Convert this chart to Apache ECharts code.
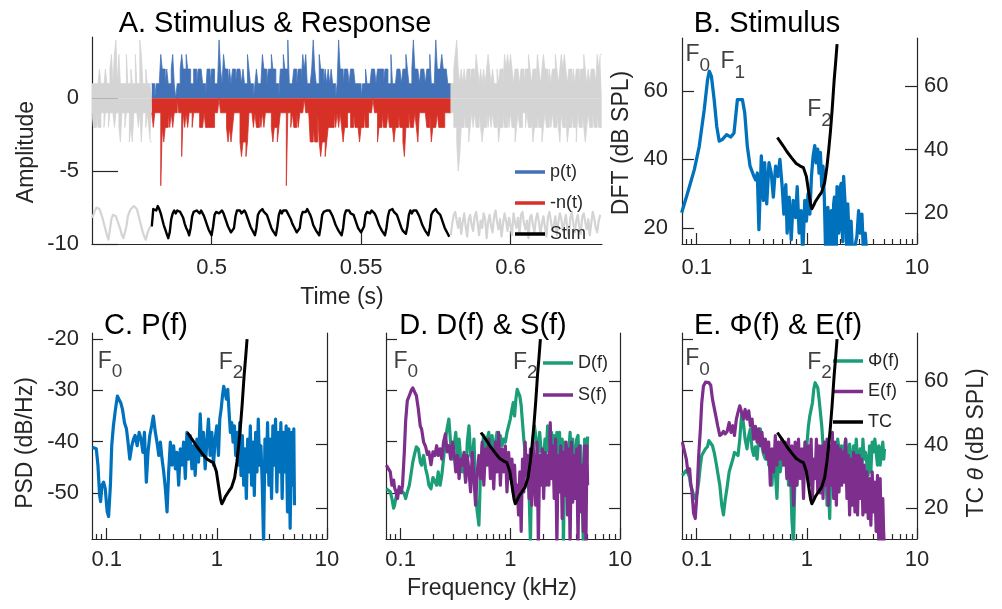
<!DOCTYPE html>
<html>
<head>
<meta charset="utf-8">
<script src="https://cdn.jsdelivr.net/npm/echarts@6/dist/echarts.min.js"></script>
<style>
html,body{margin:0;padding:0;background:#fff;}
#chart{width:1002px;height:609px;}
</style>
</head>
<body>
<div id="chart"></div>
<script>
// ---------- Panel A: spike counts per 0.5 ms bin, and the stimulus waveform ----------
const BIN = 0.0005;
const tPre = 0.46, tResp = 0.48, tPost = 0.58;

const preP = [
1,1,1,1,1,2,1,1,1,2,
1,1,2,3,1,3,4,1,3,1,
1,1,1,3,1,1,2,1,1,3,
1,1,4,3,1,1,2,1,1,1];
const preN = [
1,2,2,1,2,2,1,1,2,1,
1,2,1,1,1,2,1,1,2,3,
1,1,2,1,1,3,2,3,1,1,
1,2,1,3,1,1,2,1,2,3];

const pCounts = [
1,1,0,1,1,1,3,2,2,1,
2,1,1,2,3,1,0,1,1,2,
3,2,2,3,2,2,1,1,2,2,
1,2,2,2,1,1,0,2,2,1,
2,2,1,1,1,4,2,1,3,2,
2,1,2,1,2,2,1,2,2,2,
1,2,1,1,3,2,1,1,0,1,
2,1,1,1,3,2,2,1,2,2,
3,2,2,1,1,0,2,2,3,2,
2,4,1,1,1,2,2,1,2,2,
1,3,2,3,1,1,1,2,4,2,
1,1,3,2,2,1,2,1,2,1,
2,1,1,0,1,4,2,2,1,2,
2,2,1,2,2,2,1,1,1,1,
0,1,1,2,1,1,1,2,2,2,
1,2,2,2,2,1,2,2,1,1,
3,1,1,1,2,2,2,1,2,2,
3,2,1,1,2,4,2,2,2,1,
2,2,2,1,2,2,3,1,1,1,
4,2,2,2,3,2,2,2,1,1];
const nCounts = [
1,2,1,1,1,1,6,2,3,2,
2,1,2,1,2,1,1,0,1,1,
4,1,2,1,2,1,1,2,1,1,
1,1,2,2,2,1,2,2,2,2,
2,2,1,1,1,0,1,1,1,1,
2,3,2,3,2,1,1,1,1,3,
4,3,3,4,3,1,1,1,2,1,
2,2,1,2,1,2,1,1,1,1,
2,3,2,2,3,2,1,1,1,1,
6,1,1,2,1,2,2,1,2,1,
1,1,0,1,1,1,3,3,2,3,
3,1,3,4,3,3,4,3,2,2,
2,2,1,2,1,2,1,2,3,2,
2,1,1,2,2,1,2,2,2,3,
2,2,1,2,2,1,1,1,0,1,
1,3,2,2,1,2,2,2,1,2,
2,2,3,2,2,1,2,2,3,4,
2,2,1,2,2,2,1,2,3,1,
1,1,1,1,2,2,1,3,2,2,
2,1,2,2,2,2,1,1,1,1];

const postP = [
1,1,2,3,4,2,1,2,1,2,
1,2,2,1,2,2,1,3,2,1,
2,1,2,1,2,3,2,1,2,1,
1,2,1,2,2,1,3,2,3,2,
3,2,1,2,2,2,1,2,2,1,
2,2,3,2,1,2,2,1,3,2,
1,2,3,2,2,1,2,1,2,2,
3,2,1,2,3,2,3,2,1,2,
2,1,2,1,2,2,1,2,2,3,
2,1,2,1,2,2,2,1,3,2,3];
const postN = [
1,1,2,2,3,5,4,2,2,1,
2,2,3,2,1,2,1,2,2,1,
2,3,2,2,1,2,1,2,1,2,
2,1,3,2,2,1,2,2,1,2,
1,2,2,3,2,1,2,2,1,1,
2,1,2,2,1,3,2,2,1,2,
2,3,2,1,2,2,1,2,1,2,
2,1,2,3,1,2,2,1,3,2,
2,1,2,2,3,1,2,2,1,2,
3,2,1,2,2,1,2,2,1,2,2];

const stimPre = [
-8.2,-8.0,-7.7,-7.5,-7.4,-7.6,-7.9,-8.2,-8.6,-9.0,
-9.4,-9.7,-9.0,-8.3,-8.0,-7.9,-8.1,-8.4,-8.7,-9.0,
-9.4,-9.6,-9.7,-8.8,-8.1,-7.8,-7.6,-7.5,-7.4,-7.4,
-7.6,-8.0,-8.4,-8.8,-9.2,-9.5,-9.7,-9.3,-9.0,-8.8];
const stimResp = [
-8.8,-7.6,-7.5,-7.7,-7.4,-7.6,-7.9,-8.3,-8.7,-9.0,-9.3,-9.6,
-9.2,-8.3,-7.9,-7.7,-7.9,-7.7,-7.6,-7.8,-7.9,-8.2,-8.6,-8.9,-9.1,-9.4,
-8.9,-8.1,-7.8,-7.9,-7.7,-7.8,-7.9,-7.7,-7.9,-8.1,-8.4,-8.7,-9.0,-9.2,-9.4,
-8.8,-8.0,-7.8,-7.7,-7.9,-7.8,-7.7,-7.9,-8.2,-8.5,-8.8,-9.0,-9.2,-9.3,
-8.9,-8.1,-7.7,-7.8,-7.7,-7.9,-7.8,-7.7,-7.9,-8.2,-8.5,-8.8,-9.0,-9.1,-9.4,
-8.9,-8.0,-7.8,-7.8,-7.6,-7.8,-7.9,-8.0,-8.3,-8.6,-8.9,-9.1,-9.2,-9.4,
-8.8,-8.0,-7.7,-7.9,-7.7,-7.8,-7.7,-7.9,-8.0,-8.3,-8.6,-8.8,-9.0,-9.2,-9.3,
-8.9,-8.1,-7.8,-7.7,-7.8,-7.6,-7.8,-8.0,-8.3,-8.7,-8.9,-9.1,-9.2,-9.4,
-8.8,-8.0,-7.8,-7.9,-7.7,-7.8,-7.7,-7.9,-8.1,-8.4,-8.7,-8.9,-9.1,-9.2,-9.4,
-8.9,-8.0,-7.7,-7.8,-7.7,-7.9,-7.8,-8.0,-8.3,-8.6,-8.9,-9.0,-9.2,-9.3,
-8.8,-8.0,-7.8,-7.7,-7.9,-7.7,-7.8,-7.9,-8.1,-8.4,-8.7,-8.9,-9.1,-9.2,-9.4,
-8.9,-8.1,-7.7,-7.8,-7.6,-7.8,-7.9,-8.0,-8.3,-8.6,-8.9,-9.1,-9.2,-9.3,
-8.8,-8.0,-7.7,-7.9,-7.7,-7.8,-7.7,-7.9,-8.1,-8.4,-8.7,-8.9,-9.1,-9.2,-9.4,
-8.9,-8.0,-7.8,-7.8,-7.6,-7.8,-7.9,-8.0,-8.3,-8.6,-8.9,-9.1,-9.3,-9.5];
const stimPost = [
-9.4,-8.6,-8.0,-7.8,-8.4,-8.9,-8.2,-9.3,-8.5,-7.9,
-8.8,-9.5,-8.3,-8.0,-8.7,-9.1,-8.1,-7.8,-8.6,-9.4,
-8.4,-8.9,-7.9,-8.3,-9.6,-8.5,-8.0,-8.8,-9.2,-8.1,
-7.7,-8.5,-9.0,-8.3,-9.5,-8.6,-7.9,-8.4,-9.1,-8.2,
-8.7,-9.4,-7.9,-8.5,-8.9,-8.2,-9.3,-8.0,-7.8,-8.6,
-9.0,-8.4,-9.6,-8.2,-8.0,-8.7,-9.2,-8.3,-7.9,-8.5,
-9.3,-8.6,-8.1,-8.8,-9.5,-8.2,-7.8,-8.4,-9.0,-8.7,
-8.1,-9.4,-8.5,-7.9,-8.3,-9.1,-8.6,-8.0,-8.9,-9.5,
-8.2,-7.8,-8.6,-9.2,-8.4,-8.0,-8.8,-9.3,-8.1,-7.9,
-8.5,-9.0,-8.3,-9.4,-8.6,-7.8,-8.2,-8.9,-9.2,-8.4,-8.0];

// ---------- Panel B: stimulus DFT (kHz, dB SPL) ----------
const freqB = [
0.073,0.0826,0.0951,0.1054,0.117,0.1254,0.13,0.136,0.144,0.152,
0.16,0.171,0.187,0.204,0.218,0.234,0.243,0.26,0.273,0.288,
0.305,0.331,0.343,0.355,0.367,0.386,0.403,0.414,0.432,0.453,
0.475,0.496,0.52,0.546,0.569,0.597,0.618,0.644,0.662,0.691,
0.721,0.751,0.789,0.817,0.851,0.887,0.918,0.957,0.991,1.026,
1.064,1.101,1.14,1.18,1.213,1.256,1.291,1.327,1.365,1.403,
1.443,1.483,1.5,1.525,1.55,1.578,1.6,1.634,1.66,1.691,
1.72,1.752,1.78,1.814,1.85,1.878,1.91,1.944,1.98,2.012,
2.05,2.083,2.12,2.156,2.19,2.232,2.27,2.311,2.35,2.392,
2.43,2.476,2.52,2.6,2.653,2.75,2.849,2.95,3.054,3.161,
3.272,3.387,3.506];
const dftB = [
24.4,30.2,37,43.8,54.5,63.2,65.7,64.2,57.4,49.6,
45.3,45.8,47.2,46.5,47.7,57.4,57.9,57.4,53.5,43.8,
38,35,34,36,19.5,41,28,39,27,39,
36,29,38,35,40,32,24,32.6,18.5,29,
16.6,28,23,32,18.5,25,12,28,22,30,
24,35,41,44,39,43,36,42,32,38,
28,12,20,24,26,12,14,22,25,12,
15,27,29,12,14,32,30,18.5,22,32,
33,20.5,16,35,31,26,20,12,27,20.5,
12,12,22,12,12,15,17.6,25,18.5,24,
12,18.5,12];

// ---------- Tuning curve (kHz, dB SPL) ----------
const freqTC = [0.54,0.6,0.66,0.73,0.8,0.87,0.93,0.99,1.04,1.08,1.11,1.15,1.2,1.28,1.36,1.45,1.52,1.58,1.64,1.7,1.77,1.83,1.88];
const levelTC = [43.8,41.5,39.3,37.3,35.6,34.8,34.3,31.5,26.5,22.8,21.3,22.3,23.7,25.2,26.5,29.5,34.5,40,46,53,62,68,73.3];

// ---------- Panels C-E: response spectra (kHz, dB/Hz) ----------
const freqPSD = [
0.074,0.0804,0.0832,0.0862,0.088,0.0905,0.0937,0.097,0.101,0.104,
0.108,0.111,0.115,0.12,0.125,0.129,0.134,0.139,0.145,0.151,
0.155,0.162,0.169,0.175,0.181,0.189,0.197,0.205,0.213,0.22,
0.229,0.237,0.246,0.256,0.265,0.275,0.286,0.297,0.307,0.318,
0.329,0.341,0.353,0.365,0.378,0.391,0.405,0.42,0.434,0.45,
0.466,0.482,0.499,0.517,0.535,0.554,0.573,0.593,0.614,0.636,
0.658,0.682,0.706,0.731,0.756,0.783,0.811,0.839,0.869,0.9,
0.932,0.965,0.999,1.034,1.063,1.093,1.124,1.155,1.188,1.221,
1.256,1.291,1.327,1.365,1.403,1.443,1.483,1.525,1.568,1.612,
1.657,1.704,1.752,1.801,1.852,1.904,1.958,2.013,2.07,2.128,
2.188,2.249,2.312,2.377,2.444,2.513,2.584,2.657,2.732,2.809,
2.887,2.969,3.052,3.138,3.226,3.317,3.41,3.507,3.606,3.707,
3.811,3.918,4.029,4.142,4.258,4.378,4.502,4.628,4.758,4.892,
4.995,5.065];
const psdP = [
-41.1,-41.4,-44.6,-50.5,-51.7,-48.5,-47.9,-49.2,-53.7,-54.6,
-48.5,-40.8,-36.9,-33.7,-31.1,-31.7,-32.4,-33.7,-36.3,-37.5,
-39.5,-43.4,-40.8,-39.5,-38.8,-40.8,-38.2,-39.5,-42.1,-38.2,
-47.9,-42.1,-38.8,-36.9,-35,-37.9,-40.1,-42.7,-40.1,-43.4,
-45.9,-49.2,-53.7,-45.9,-40.1,-44.6,-40.8,-45.3,-42.1,-48.5,
-41.4,-44.6,-40.1,-47.2,-38.2,-43.4,-38.8,-45.3,-40.8,-46.6,
-39.5,-44,-34.6,-42.7,-38.2,-45.3,-40.1,-35.6,-42.7,-38.2,
-44.6,-39.5,-36.9,-42.7,-35.6,-33.7,-31.1,-29.2,-30.5,-31.7,
-29.8,-34.3,-38.2,-36.3,-40.1,-36.9,-42.7,-38.2,-44.6,-36.3,
-46.6,-38.8,-48.5,-41.4,-51.1,-39.5,-45.9,-36.9,-48.5,-40.1,
-50.5,-38.2,-45.9,-35.6,-44.6,-40.8,-48.5,-60,-39.5,-45.9,
-36.3,-48.5,-39.5,-51.1,-36.9,-44.6,-35.6,-49.8,-38.2,-45.9,
-36.3,-51.1,-38.2,-45.9,-36.9,-53.7,-37.5,-56.9,-38.2,-48.5,
-37.5,-52.4];
const psdD = [
-49.2,-49.8,-51.1,-53,-52.4,-51,-49.5,-49.2,-49.5,-49.2,
-50.2,-51.1,-49.8,-48.5,-46,-44,-42.4,-41,-41.4,-44,
-44.6,-42.7,-45.3,-46.6,-48.5,-49.2,-47,-47.2,-48.5,-45.9,
-48.5,-46.6,-43.4,-39.5,-37.5,-35.6,-40.5,-43.4,-40.8,-38.2,
-42.7,-39.5,-43.4,-45.9,-42.7,-47.9,-40.1,-36.9,-42.7,-43.4,
-39.5,-49.8,-53.7,-56.3,-45.9,-40.8,-38.8,-42.7,-39.5,-38.2,
-42.1,-38.8,-42.7,-40.1,-38.2,-41.4,-38.8,-40.8,-39.5,-40.1,
-38.2,-36.9,-35.6,-33.7,-32.4,-35,-31.7,-29.8,-30.5,-31.1,
-33,-36.3,-39.5,-42.1,-45.9,-48.5,-49.8,-60,-43.4,-39.5,
-36.9,-36.9,-40.8,-42.1,-38.2,-41.4,-41.4,-43.4,-39.5,-42.1,
-36.9,-36.9,-40.8,-38.2,-42.1,-38.8,-43.4,-38.2,-44.6,-38.2,
-45.3,-39.5,-60,-40.1,-45.9,-40.8,-42.1,-38.2,-44.6,-39.5,
-43.4,-44.6,-39.5,-38.8,-45.9,-40.8,-48.5,-60,-39.5,-41.4,
-43.4,-39];
const psdS = [
-44.6,-45.9,-48.5,-47.5,-49,-49.8,-51.1,-48.8,-50,-48.5,
-42,-36,-32,-31,-30,-29.5,-30.3,-31,-33.7,-37,
-37.5,-40.1,-41,-42.5,-42,-44.5,-42,-42.7,-40.8,-42.7,
-41.4,-43.4,-40.1,-38.5,-42,-40.8,-43.4,-40.1,-42.1,-45.9,
-42.7,-47.2,-43.4,-44.6,-42.1,-47.9,-42.7,-45.9,-49.8,-42.1,
-47.2,-52.4,-45.9,-42.7,-47.2,-40.1,-48.5,-41.4,-44.6,-39.5,
-47.2,-42.1,-49.2,-40.1,-45.9,-38.2,-48.5,-41.4,-45.9,-40.8,
-49.8,-42.1,-47.2,-43.4,-49.8,-44.6,-51.1,-48.5,-54.3,-45.9,
-57.5,-43.4,-49.8,-40.1,-46.6,-42.7,-51.1,-41.4,-52.4,-40.1,
-47,-52.4,-40.1,-60,-42.7,-48.5,-41.4,-51.1,-42.1,-48.5,
-42.7,-48.5,-36.3,-47.2,-40.8,-51.1,-39.5,-60,-42.7,-49.8,
-40.8,-55,-42.1,-50.5,-40.1,-54.3,-41.4,-60,-40.1,-51.8,
-42.7,-51.1,-41.4,-60,-40.8,-53.7,-44.6,-57.5,-40.8,-60,
-40.8,-48.5];
const psdPhi = [
-46.6,-45.6,-46.2,-47,-48.5,-49.2,-50.5,-51.1,-50,-48,
-44.6,-42.7,-42.1,-41.4,-41,-39.8,-40.1,-40.8,-42.4,-44.5,
-46,-48.5,-52.5,-54.3,-51.5,-48.8,-45.9,-44.6,-43.4,-42.1,
-41.8,-42.7,-39.5,-34.5,-36.3,-39.5,-41.4,-38.8,-37.5,-41.4,
-42.7,-41,-43.4,-39.5,-37.5,-41,-42.5,-43.4,-40.1,-44.6,
-43.4,-48.5,-42.1,-45.9,-51.1,-42.1,-45.9,-43.4,-40.8,-44.6,
-41.4,-48.5,-43.4,-55,-60,-44.6,-48.5,-42.7,-45.9,-42.1,
-44.6,-40.1,-40.8,-36.9,-35,-33.7,-32.4,-29.8,-28.5,-28.8,
-29.5,-31.7,-34.3,-36.9,-40.8,-42.5,-44.6,-52.4,-48.5,-55,
-43.4,-42.7,-40.8,-45.9,-42.1,-39.5,-41.4,-43.4,-40.8,-45.9,
-41.4,-39.5,-42.7,-44.6,-40.5,-43.4,-47.2,-40.8,-43.4,-39.5,
-44,-44.6,-41.4,-48.5,-39.5,-43.4,-42.1,-42.1,-46.6,-40.8,
-45.9,-40.1,-42,-39.5,-42.1,-44.6,-40.8,-44.6,-42,-40.1,
-43.4,-41.4];
const psdE = [
-40.1,-43.4,-45.9,-45.3,-47.9,-49.8,-54,-55,-49.5,-43,
-37.5,-32.5,-29.2,-28.4,-28.4,-28.5,-29,-31.7,-33.7,-35.6,
-36.9,-38.8,-38.5,-38,-38.5,-38,-36.3,-38.2,-36.9,-38.8,
-35.6,-34.3,-33,-34.3,-35.6,-33.7,-35.6,-34,-36.9,-35.6,
-39.5,-37,-40.1,-37.5,-40.8,-38.2,-42.1,-39.5,-43.4,-40.1,
-48.5,-41.4,-45.9,-38.8,-44.6,-40.1,-43.4,-39.5,-44.6,-40.1,
-47.2,-39.5,-48.5,-40.8,-52.4,-40.1,-48.5,-39.5,-47.2,-41.4,
-51.1,-40.1,-45.9,-40.8,-48.5,-39.5,-51.1,-43.4,-47.2,-39.5,
-49.8,-40.8,-50,-40.8,-51.1,-40.1,-48.5,-39.5,-52.4,-40.8,
-48.5,-38.2,-51.1,-40.1,-52.4,-40.8,-49.8,-41.4,-48.5,-42,
-47.9,-39.5,-51.1,-42.7,-54.3,-43.4,-52.4,-42.1,-53.7,-42.7,
-54.3,-42.7,-51.1,-43.4,-54.3,-44.6,-53.7,-45.9,-55,-47.2,
-56.3,-45.9,-53.7,-47.9,-57.5,-46.6,-60,-47.2,-60,-51.1,
-58.8,-60];

// ---------- Tick values ----------
const ticksTime = [0.5, 0.55, 0.6];
const ticksAmp = [-10, -5, 0];
const ticksFreqMajor = [0.1, 1, 10];
const ticksFreqMinor = [0.08, 0.09, 0.2, 0.3, 0.4, 0.5, 0.6, 0.7, 0.8, 0.9, 2, 3, 4, 5, 6, 7, 8, 9];
const ticksDFT = [20, 40, 60];
const ticksTC = [20, 40, 60];
const ticksPSD = [-50, -40, -30, -20];

// ---------- Styling ----------
const FONT = "'Liberation Sans', Arial, Helvetica, sans-serif";
const INK = '#262626';
const C_GRAY = '#d4d4d4', C_P = '#4272B8', C_N = '#D63027';
const C_BLUE = '#0072BD', C_GREEN = '#1B9E77', C_PURPLE = '#7E2F8E';
const F_MIN = 0.0735, F_MAX = 10;
const PSD_MIN = -59, PSD_MAX = -18.8;
const TC_MIN = 10.2, TC_MAX = 75.2;
const DFT_MIN = 15.3, DFT_MAX = 75.4;

const gridBoxes = [
  {left: 92, top: 37, width: 510, height: 207},
  {left: 682, top: 38, width: 235, height: 206},
  {left: 92, top: 333, width: 235, height: 206},
  {left: 386, top: 333, width: 234, height: 206},
  {left: 682, top: 333, width: 235, height: 206}
];

function axisLineStyle() { return {color: INK, width: 1.2}; }
function labelStyle(extra) { return Object.assign({color: INK, fontFamily: FONT, fontSize: 22}, extra); }

function freqAxes(gridIndex, showLabels, margin) {
  const base = {type: 'log', logBase: 10, gridIndex, min: F_MIN, max: F_MAX, position: 'bottom',
    splitLine: {show: false}, minorTick: {show: false}, minorSplitLine: {show: false}};
  return [
    Object.assign({}, base, {
      axisLine: {show: true, onZero: false, lineStyle: axisLineStyle()},
      axisTick: {show: true, inside: true, length: 11, customValues: ticksFreqMajor, lineStyle: axisLineStyle()},
      axisLabel: labelStyle({show: showLabels, customValues: ticksFreqMajor, margin})
    }),
    Object.assign({}, base, {
      axisLine: {show: false, onZero: false},
      axisTick: {show: true, inside: true, length: 5, customValues: ticksFreqMinor, lineStyle: axisLineStyle()},
      axisLabel: {show: false}
    })
  ];
}

function valueAxis(gridIndex, position, min, max, ticks, showLabels, tickLen, margin) {
  return {type: 'value', gridIndex, position, min, max,
    splitLine: {show: false},
    axisLine: {show: true, onZero: false, lineStyle: axisLineStyle()},
    axisTick: {show: true, inside: true, length: tickLen, customValues: ticks, lineStyle: axisLineStyle()},
    axisLabel: labelStyle({show: showLabels, customValues: ticks, margin})};
}

function binned(t0, counts, sign) {
  const pts = counts.map((c, i) => [t0 + i * BIN, sign * c]);
  pts.push([t0 + counts.length * BIN, sign * counts[counts.length - 1]]);
  return pts;
}
function sampled(t0, vals) { return vals.map((v, i) => [t0 + i * BIN, v]); }

function spikeSeries(name, data, color) {
  return {name, type: 'line', xAxisIndex: 0, yAxisIndex: 0, data, step: 'end',
    symbol: 'none', showSymbol: false, silent: true,
    lineStyle: {color, width: 0.8}, areaStyle: {color, opacity: 1}, itemStyle: {color}, z: 2};
}
function waveSeries(name, data, color, width, z) {
  return {name, type: 'line', xAxisIndex: 0, yAxisIndex: 0, data, symbol: 'none', showSymbol: false,
    silent: true, lineStyle: {color, width, join: 'round'}, itemStyle: {color}, z};
}
function spectrum(name, xi, yi, freq, vals, color, width, z) {
  return {name, type: 'line', xAxisIndex: xi, yAxisIndex: yi, data: freq.map((f, i) => [f, vals[i]]),
    symbol: 'none', showSymbol: false, silent: true, clip: true,
    lineStyle: {color, width, join: 'round'}, itemStyle: {color}, z};
}
function formantLabels(xi, yi, marks) {
  const data = [];
  marks.forEach(m => {
    data.push({value: [m.f, m.v], label: {formatter: 'F', fontSize: 23}});
    data.push({value: [m.f, m.v], label: {formatter: m.sub, fontSize: 19, offset: [14, 11]}});
  });
  return {type: 'scatter', xAxisIndex: xi, yAxisIndex: yi, symbolSize: 1, silent: true, z: 6,
    itemStyle: {color: 'rgba(0,0,0,0)'},
    label: {show: true, position: 'right', distance: 0, color: '#111', fontFamily: FONT}, data};
}
function txt(text, x, y, size, rot, rich, color) {
  return {type: 'text', x, y, rotation: rot || 0, silent: true, z: 20,
    style: {text, fill: color || INK, font: size + 'px ' + FONT, rich,
      textAlign: 'center', textVerticalAlign: 'middle', align: 'center', verticalAlign: 'middle'}};
}

const xAxes = [
  {type: 'value', gridIndex: 0, min: 0.46, max: 0.6306, position: 'bottom', splitLine: {show: false},
   axisLine: {show: true, onZero: false, lineStyle: axisLineStyle()},
   axisTick: {show: true, inside: true, length: 13, customValues: ticksTime, lineStyle: axisLineStyle()},
   axisLabel: labelStyle({customValues: ticksTime, margin: 13})}
].concat(freqAxes(1, true, 13), freqAxes(2, true, 10), freqAxes(3, true, 10), freqAxes(4, true, 10));

const yAxes = [
  valueAxis(0, 'left', -10, 4.2, ticksAmp, true, 26, 13),
  valueAxis(1, 'left', DFT_MIN, DFT_MAX, ticksDFT, true, 12, 14),
  valueAxis(1, 'right', TC_MIN, TC_MAX, ticksTC, true, 12, 7),
  valueAxis(2, 'left', PSD_MIN, PSD_MAX, ticksPSD, true, 11, 13),
  valueAxis(2, 'right', TC_MIN, TC_MAX, ticksTC, false, 11, 7),
  valueAxis(3, 'left', PSD_MIN, PSD_MAX, ticksPSD, false, 11, 13),
  valueAxis(3, 'right', TC_MIN, TC_MAX, ticksTC, false, 11, 7),
  valueAxis(4, 'left', PSD_MIN, PSD_MAX, ticksPSD, false, 11, 13),
  valueAxis(4, 'right', TC_MIN, TC_MAX, ticksTC, true, 11, 7)
];

const series = [
  // A: spike trains and stimulus
  spikeSeries('pre+', binned(tPre, preP, 1), C_GRAY),
  spikeSeries('pre-', binned(tPre, preN, -1), C_GRAY),
  spikeSeries('p(t)', binned(tResp, pCounts, 1), C_P),
  spikeSeries('-n(t)', binned(tResp, nCounts, -1), C_N),
  spikeSeries('post+', binned(tPost, postP, 1), C_GRAY),
  spikeSeries('post-', binned(tPost, postN, -1), C_GRAY),
  waveSeries('stimPre', sampled(tPre, stimPre), C_GRAY, 2.2, 3),
  waveSeries('stimPost', sampled(tPost, stimPost), C_GRAY, 2.2, 3),
  waveSeries('Stim', sampled(tResp, stimResp), '#000', 2.4, 4),
  // B
  spectrum('DFT', 1, 1, freqB, dftB, C_BLUE, 3.3, 3),
  spectrum('TC', 1, 2, freqTC, levelTC, '#000', 3, 4),
  formantLabels(1, 1, [{f: 0.0781, v: 70.5, sub: '0'}, {f: 0.1625, v: 68.5, sub: '1'}, {f: 1.0, v: 54.5, sub: '2'}]),
  // C
  spectrum('P(f)', 3, 3, freqPSD, psdP, C_BLUE, 3.2, 3),
  spectrum('TC', 3, 4, freqTC, levelTC, '#000', 3, 4),
  formantLabels(3, 3, [{f: 0.082, v: -24.3, sub: '0'}, {f: 1.03, v: -24.5, sub: '2'}]),
  // D
  spectrum('D(f)', 5, 5, freqPSD, psdD, C_GREEN, 3.2, 3),
  spectrum('S(f)', 5, 5, freqPSD, psdS, C_PURPLE, 3.2, 3),
  spectrum('TC', 5, 6, freqTC, levelTC, '#000', 3, 4),
  formantLabels(5, 5, [{f: 0.085, v: -24.3, sub: '0'}, {f: 1.045, v: -24.5, sub: '2'}]),
  // E
  spectrum('Φ(f)', 7, 7, freqPSD, psdPhi, C_GREEN, 3.2, 3),
  spectrum('E(f)', 7, 7, freqPSD, psdE, C_PURPLE, 3.2, 3),
  spectrum('TC', 7, 8, freqTC, levelTC, '#000', 3, 4),
  formantLabels(7, 7, [{f: 0.078, v: -23.9, sub: '0'}, {f: 1.0, v: -24.5, sub: '2'}])
];

const legendBase = {orient: 'vertical', icon: 'rect', itemWidth: 30, itemHeight: 3.5, padding: 0,
  selectedMode: false, textStyle: {fontSize: 18, color: INK, fontFamily: FONT}};

const option = {
  animation: false,
  backgroundColor: '#fff',
  grid: gridBoxes.map(g => Object.assign({containLabel: false, outerBoundsMode: 'none', show: false}, g)),
  xAxis: xAxes,
  yAxis: yAxes,
  legend: [
    Object.assign({}, legendBase, {data: ['p(t)', '-n(t)', 'Stim'], left: 515, top: 163, itemGap: 13}),
    Object.assign({}, legendBase, {data: ['D(f)', 'S(f)'], left: 543, top: 354, itemGap: 14}),
    Object.assign({}, legendBase, {data: ['Φ(f)', 'E(f)', 'TC'], left: 833, top: 352, itemGap: 12.5})
  ],
  graphic: [
    txt('A. Stimulus & Response', 275, 24, 29, 0, null, '#000'),
    txt('B. Stimulus', 767, 24, 29, 0, null, '#000'),
    txt('C. P(f)', 146, 326, 29, 0, null, '#000'),
    txt('D. D(f) & S(f)', 483, 326, 29, 0, null, '#000'),
    txt('E. Φ(f) & E(f)', 778, 326, 29, 0, null, '#000'),
    txt('Amplitude', 27, 152, 23, Math.PI / 2),
    txt('Time (s)', 342, 298, 23),
    txt('DFT (dB SPL)', 622, 143, 23, Math.PI / 2),
    txt('PSD (dB/Hz)', 26, 443, 23, Math.PI / 2),
    txt('Frequency (kHz)', 492, 589, 23),
    txt('{n|TC }{i|θ}{n| (dB SPL)}', 977, 443, 23, Math.PI / 2, {
      n: {fontSize: 23, fontFamily: FONT, fill: INK},
      i: {fontSize: 23, fontFamily: FONT, fontStyle: 'italic', fill: INK}
    })
  ],
  series
};

const chart = echarts.init(document.getElementById('chart'), null, {renderer: 'canvas'});
chart.setOption(option);
</script>
</body>
</html>
